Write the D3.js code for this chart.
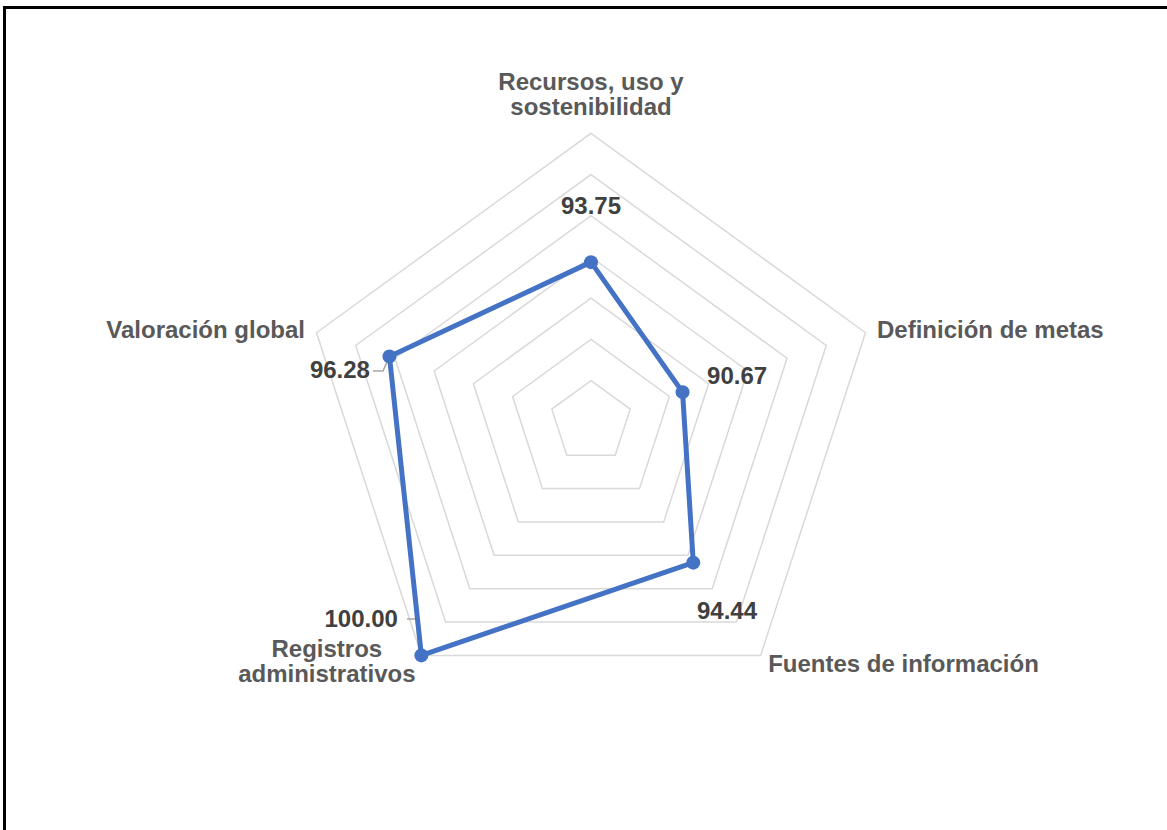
<!DOCTYPE html>
<html>
<head>
<meta charset="utf-8">
<script src="https://cdn.jsdelivr.net/npm/d3@7"></script>
<style>
  html, body { margin: 0; padding: 0; background: #fff; }
  svg { display: block; }
  text { font-family: "Liberation Sans", Arial, sans-serif; font-weight: bold; }
</style>
</head>
<body>
<div id="chart"></div>
<script>
// ---- data ----
const categories = [
  ["Recursos, uso y", "sostenibilidad"],
  ["Definición de metas"],
  ["Fuentes de información"],
  ["Registros", "administrativos"],
  ["Valoración global"]
];
const values = [93.75, 90.67, 94.44, 100.00, 96.28];
const valueLabels = ["93.75", "90.67", "94.44", "100.00", "96.28"];
const ringTicks = [88, 90, 92, 94, 96, 98, 100];
const axisMin = 86, axisMax = 100;

// ---- layout ----
const W = 1167, H = 830;
const cx = 591, cy = 421.9, R = 288.6;

const svg = d3.select("#chart").append("svg").attr("width", W).attr("height", H);

// frame
svg.append("rect")
  .attr("x", 4.5).attr("y", 7.5).attr("width", W + 20).attr("height", H + 20)
  .attr("fill", "none").attr("stroke", "#000").attr("stroke-width", 3);

const r = d3.scaleLinear().domain([axisMin, axisMax]).range([0, R]);
const angle = d3.scalePoint().domain(d3.range(categories.length)).range([0, 2 * Math.PI * (categories.length - 1) / categories.length]);
const pt = (i, v) => {
  const a = angle(i) - Math.PI / 2;
  return [cx + r(v) * Math.cos(a), cy + r(v) * Math.sin(a)];
};

// grid rings
const ringLine = d3.line();
svg.append("g").selectAll("path").data(ringTicks).join("path")
  .attr("d", t => ringLine(d3.range(categories.length).map(i => pt(i, t))) + "Z")
  .attr("fill", "none").attr("stroke", "#d9d9d9").attr("stroke-width", 1.5);

// leader lines
const leaders = {
  3: p => [[407, 619], [417, 619], p],
  4: p => [[373, 371], [383, 371], p]
};
Object.keys(leaders).forEach(k => {
  const i = +k;
  const p = pt(i, values[i]);
  svg.append("path").attr("d", d3.line()(leaders[k](p)))
    .attr("fill", "none").attr("stroke", "#a6a6a6").attr("stroke-width", 1.5);
});

// series
const pts = values.map((v, i) => pt(i, v));
svg.append("path")
  .attr("d", d3.line()(pts) + "Z")
  .attr("fill", "none").attr("stroke", "#4472C4").attr("stroke-width", 5)
  .attr("stroke-linejoin", "round");
svg.append("g").selectAll("circle").data(pts).join("circle")
  .attr("cx", d => d[0]).attr("cy", d => d[1]).attr("r", 7)
  .attr("fill", "#4472C4");

// category labels (position offsets from outer vertex)
const catPos = [
  { dx: 0, y: [90, 115], anchor: "middle" },
  { dx: 11.5, y: [338], anchor: "start" },
  { dx: 7.5, y: [672], anchor: "start" },
  { dx: -94.5, y: [657, 682], anchor: "middle" },
  { dx: -11.5, y: [338], anchor: "end" }
];
categories.forEach((lines, i) => {
  const p = pt(i, axisMax);
  const cfg = catPos[i];
  const t = svg.append("text")
    .attr("text-anchor", cfg.anchor)
    .attr("fill", "#595959").attr("font-size", 24);
  lines.forEach((ln, j) => {
    t.append("tspan").attr("x", p[0] + cfg.dx).attr("y", cfg.y[j]).text(ln);
  });
});

// value labels
const valPos = [
  { dx: 0, dy: -48.5, anchor: "middle" },
  { dx: 24.5, dy: -8.5, anchor: "start" },
  { dx: 3.7, dy: 56, anchor: "start" },
  { dx: -23.5, dy: -28, anchor: "end" },
  { dx: -19.5, dy: 22, anchor: "end" }
];
values.forEach((v, i) => {
  const p = pts[i];
  const cfg = valPos[i];
  svg.append("text")
    .attr("x", p[0] + cfg.dx).attr("y", p[1] + cfg.dy)
    .attr("text-anchor", cfg.anchor)
    .attr("fill", "#404040").attr("font-size", 24)
    .text(valueLabels[i]);
});
</script>
</body>
</html>
